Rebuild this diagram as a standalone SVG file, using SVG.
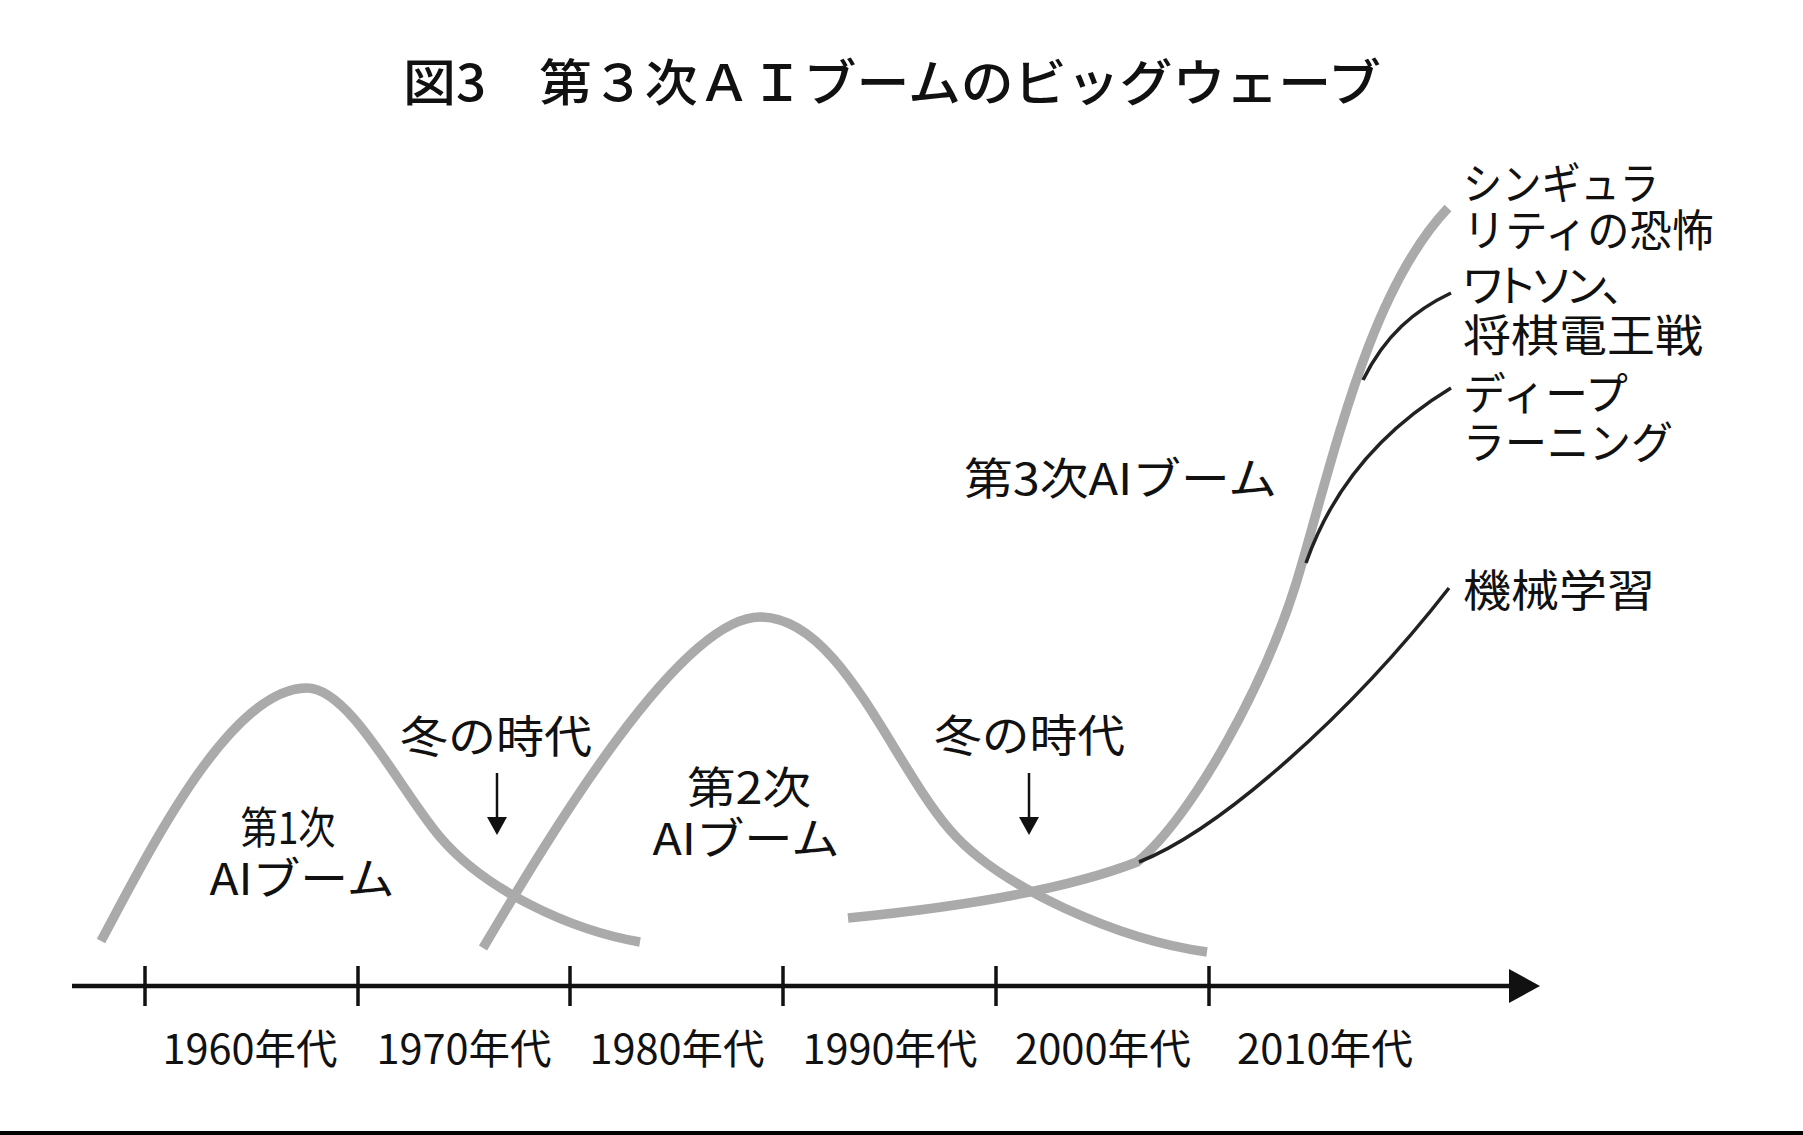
<svg xmlns="http://www.w3.org/2000/svg" width="1803" height="1135" viewBox="0 0 1803 1135">
<style>
text { font-family: "Noto Sans CJK JP", "Noto Sans", sans-serif; fill: #111; }
.title { font-size: 50px; font-weight: 500; }
.lbl { font-size: 44px; }
.yr { font-size: 41px; text-anchor: middle; }
.mid { text-anchor: middle; }
.palt { font-feature-settings: "palt" 1; }
.wave { fill: none; stroke: #aaaaaa; stroke-width: 9.5; }
.branch { fill: none; stroke: #222; stroke-width: 3.5; }
.axis { stroke: #111; stroke-width: 4.5; fill: none; }
.tick { stroke: #111; stroke-width: 3.5; }
.arr { stroke: #111; stroke-width: 2.5; }
.head { fill: #111; }
</style>
<rect width="1803" height="1135" fill="#fff"/>
<g id="title"><text class="title" x="403" y="101" textLength="978" lengthAdjust="spacingAndGlyphs">図3　第３次ＡＩブームのビッグウェーブ</text></g>

<g id="connectors">
<path class="wave" d="M101 941 C150 850 230 688 307 688 C350 688 400 790 440 837 C485 890 570 930 640 942"/>
<path class="wave" d="M483 948 C550 835 680 617 760 617 C840 617 890 760 950 830 C1000 888 1120 940 1207 952"/>
<path class="wave" d="M848 918 C950 908 1060 892 1137 862 C1190 820 1270 680 1303 560 C1340 430 1375 285 1448 208"/>
<path class="branch" d="M1139 862 C1220 830 1350 715 1449 588"/>
<path class="branch" d="M1306 563 C1335 480 1390 425 1451 388"/>
<path class="branch" d="M1363 380 C1385 335 1415 310 1451 293"/>
<line class="axis" x1="72" y1="986" x2="1512" y2="986"/>
<polygon class="head" points="1509,969 1540,986 1509,1003"/>
<line class="tick" x1="145" y1="966" x2="145" y2="1006"/>
<line class="tick" x1="358" y1="966" x2="358" y2="1006"/>
<line class="tick" x1="570" y1="966" x2="570" y2="1006"/>
<line class="tick" x1="783" y1="966" x2="783" y2="1006"/>
<line class="tick" x1="996" y1="966" x2="996" y2="1006"/>
<line class="tick" x1="1209" y1="966" x2="1209" y2="1006"/>
<line class="arr" x1="497" y1="773" x2="497" y2="820"/>
<polygon class="head" points="487,817 507,817 497,835"/>
<line class="arr" x1="1029" y1="773" x2="1029" y2="820"/>
<polygon class="head" points="1019,817 1039,817 1029,835"/>
</g>

<g id="boom1">
<text class="lbl mid" x="288" y="844" textLength="95" lengthAdjust="spacingAndGlyphs">第1次</text>
<text class="lbl mid" x="302" y="895" textLength="185" lengthAdjust="spacingAndGlyphs">AIブーム</text>
</g>
<g id="winter1"><text class="lbl" x="400" y="753" textLength="192" lengthAdjust="spacingAndGlyphs">冬の時代</text></g>
<g id="boom2">
<text class="lbl mid" x="749" y="804" textLength="124" lengthAdjust="spacingAndGlyphs">第2次</text>
<text class="lbl mid" x="746" y="855" textLength="187" lengthAdjust="spacingAndGlyphs">AIブーム</text>
</g>
<g id="winter2"><text class="lbl" x="934" y="752" textLength="191" lengthAdjust="spacingAndGlyphs">冬の時代</text></g>
<g id="boom3"><text class="lbl" x="964" y="495" textLength="313" lengthAdjust="spacingAndGlyphs">第3次AIブーム</text></g>

<g id="singularity">
<text class="lbl" x="1463" y="200" textLength="196" lengthAdjust="spacingAndGlyphs">シンギュラ</text>
<text class="lbl" x="1463" y="247" textLength="251" lengthAdjust="spacingAndGlyphs">リティの恐怖</text>
</g>
<g id="watson">
<text class="lbl palt" x="1463" y="302" textLength="161" lengthAdjust="spacing">ワトソン、</text>
<text class="lbl" x="1463" y="352" textLength="240" lengthAdjust="spacingAndGlyphs">将棋電王戦</text>
</g>
<g id="deep">
<text class="lbl" x="1463" y="410" textLength="165" lengthAdjust="spacingAndGlyphs">ディープ</text>
<text class="lbl" x="1463" y="459" textLength="210" lengthAdjust="spacingAndGlyphs">ラーニング</text>
</g>
<g id="ml"><text class="lbl" x="1463" y="607" textLength="192" lengthAdjust="spacingAndGlyphs">機械学習</text></g>

<g id="years">
<text class="yr" x="250" y="1064" textLength="175" lengthAdjust="spacingAndGlyphs">1960年代</text>
<text class="yr" x="464" y="1064" textLength="175" lengthAdjust="spacingAndGlyphs">1970年代</text>
<text class="yr" x="677" y="1064" textLength="175" lengthAdjust="spacingAndGlyphs">1980年代</text>
<text class="yr" x="890" y="1064" textLength="175" lengthAdjust="spacingAndGlyphs">1990年代</text>
<text class="yr" x="1103" y="1064" textLength="176" lengthAdjust="spacingAndGlyphs">2000年代</text>
<text class="yr" x="1325" y="1064" textLength="176" lengthAdjust="spacingAndGlyphs">2010年代</text>
</g>
<rect x="0" y="1131" width="1803" height="4" fill="#000"/>
</svg>
